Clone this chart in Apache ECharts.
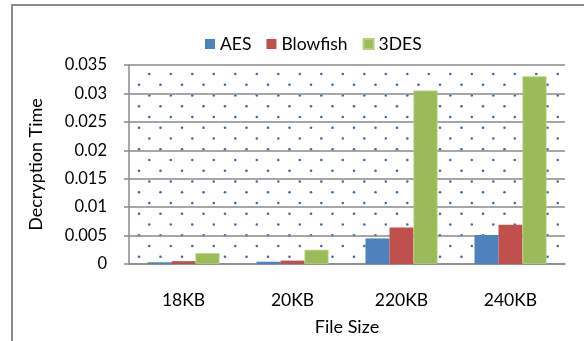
<!DOCTYPE html>
<html>
<head>
<meta charset="utf-8">
<script src="https://cdn.jsdelivr.net/npm/echarts@6/dist/echarts.min.js"></script>
<style>
  html, body { margin: 0; padding: 0; background: #fff; }
  #chart { width: 584px; height: 341px; }
</style>
</head>
<body>
<div id="chart"></div>
<script>
// File sizes and decryption times (seconds) per algorithm
var categories = ['18KB', '20KB', '220KB', '240KB'];
var aes = [0.0003, 0.0004, 0.0045, 0.0051];
var blowfish = [0.0005, 0.0006, 0.0064, 0.0069];
var des3 = [0.0019, 0.0025, 0.0305, 0.033];
var yTickLabels = ['0', '0.005', '0.01', '0.015', '0.02', '0.025', '0.03', '0.035'];

var FONT = 'Lato';
var GRID_GRAY = '#8a8a8a';
var TEXT = '#000';

// Staggered dot fill for the plot area
function dotPattern() {
  var c = document.createElement('canvas');
  c.width = 43; c.height = 43;
  var g = c.getContext('2d');
  g.fillStyle = '#3f6ba6';
  var pts = [[20.3, 9.5], [41.8, 9.5], [20.3, 31], [41.8, 31],
             [10, 20.2], [31.5, 20.2], [10, 41.7], [31.5, 41.7]];
  pts.forEach(function (p) {
    g.beginPath();
    g.arc(p[0], p[1], 1.3, 0, Math.PI * 2);
    g.fill();
  });
  return c;
}

var chart = echarts.init(document.getElementById('chart'), null, { renderer: 'canvas' });

chart.setOption({
  animation: false,
  backgroundColor: '#fff',
  textStyle: { fontFamily: FONT },
  graphic: [{
    type: 'rect',
    shape: { x: 12, y: 5, width: 640, height: 400 },
    style: { fill: 'none', stroke: '#8c8c8c', lineWidth: 2 },
    silent: true
  }],
  legend: {
    left: 200,
    top: 30,
    itemWidth: 10,
    itemHeight: 10,
    itemGap: 15,
    icon: 'rect',
    textStyle: { fontFamily: FONT, fontSize: 17.5, color: TEXT },
    data: ['AES', 'Blowfish', '3DES']
  },
  grid: {
    left: 129,
    right: 19,
    top: 65,
    bottom: 75,
    show: true,
    borderWidth: 0,
    backgroundColor: { image: dotPattern(), repeat: 'repeat' }
  },
  xAxis: {
    type: 'category',
    data: categories,
    name: 'File Size',
    nameLocation: 'middle',
    nameGap: 54,
    nameTextStyle: { fontFamily: FONT, fontSize: 18, color: TEXT },
    axisLine: { show: true, lineStyle: { color: GRID_GRAY, width: 1.5 } },
    axisTick: { show: false },
    axisLabel: { margin: 27, fontFamily: FONT, fontSize: 17.5, color: TEXT }
  },
  yAxis: {
    type: 'value',
    min: 0,
    max: 0.035,
    interval: 0.005,
    name: 'Decryption Time',
    nameLocation: 'middle',
    nameGap: 84,
    nameTextStyle: { fontFamily: FONT, fontSize: 18, color: TEXT },
    axisLine: { show: true, lineStyle: { color: GRID_GRAY, width: 1.5 } },
    axisTick: { show: true, length: 5, lineStyle: { color: GRID_GRAY, width: 1.5 } },
    axisLabel: {
      margin: 22,
      fontFamily: FONT,
      fontSize: 16.5,
      color: TEXT,
      formatter: function (v) {
        return yTickLabels[Math.round(v / 0.005)];
      }
    },
    splitLine: { show: true, lineStyle: { color: GRID_GRAY, width: 1.5 } }
  },
  series: [
    { name: 'AES', type: 'bar', data: aes, barWidth: 24, barGap: '0%',
      itemStyle: { color: '#4F81BD' } },
    { name: 'Blowfish', type: 'bar', data: blowfish, barWidth: 24, barGap: '0%',
      itemStyle: { color: '#C0504D' } },
    { name: '3DES', type: 'bar', data: des3, barWidth: 24, barGap: '0%',
      itemStyle: { color: '#9BBB59', borderColor: '#b5cf7e', borderWidth: 0.8 } }
  ]
});
</script>
</body>
</html>
